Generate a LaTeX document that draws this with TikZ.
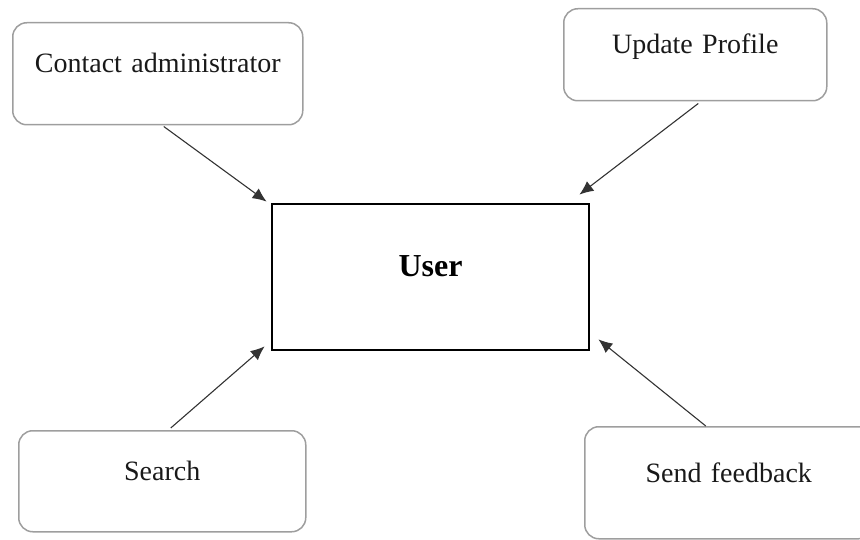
\documentclass[tikz,border=0pt]{standalone}
\usepackage{fontspec}
\setmainfont{Liberation Serif}
\usetikzlibrary{arrows.meta,calc}
\begin{document}
\begin{tikzpicture}[x=1pt,y=-1pt,
  actbox/.style={draw=black!38, line width=1.5pt, rounded corners=14pt,
    inner sep=0pt, align=center, anchor=north west,
    font=\fontsize{28}{34}\selectfont, text=black!90},
  userbox/.style={draw=black, line width=2.8pt, inner sep=0pt, align=center,
    text width=317pt, text height=73pt, text depth=73pt,
    font=\fontsize{32}{38}\selectfont\bfseries},
  flow/.style={draw=black!80, line width=1.1pt,
    -{Latex[length=14pt,width=12pt]}}]
\useasboundingbox (0,0) rectangle (860,540);
\clip (0,0) rectangle (860,540);

% central actor
\node[userbox] (user) at (430.5,277) {User};

% use cases around the actor
\node[actbox, text width=290pt, text height=50pt, text depth=52pt] (ca) at (12,22) {Contact administrator};
\node[actbox, text width=263pt, text height=45pt, text depth=47pt] (up) at (563,8) {Update Profile};
\node[actbox, text width=287pt, text height=50pt, text depth=51pt] (se) at (18,430) {Search};
\node[actbox, text width=288pt, text height=56pt, text depth=56pt] (sf) at (584,426) {Send feedback};

% connectors into the actor
\draw[flow] ($(ca.south)+(6,1)$) -- ($(user.north west)+(-4,-1)$);
\draw[flow] ($(up.south)+(3,2)$) -- ($(user.north east)+(-11,-8)$);
\draw[flow] ($(se.north)+(8.5,-2)$) -- ($(user.south west)+(-6,-5)$);
\draw[flow] ($(sf.north)+(-23,0)$) -- ($(user.south east)+(8,-12)$);
\end{tikzpicture}
\end{document}
